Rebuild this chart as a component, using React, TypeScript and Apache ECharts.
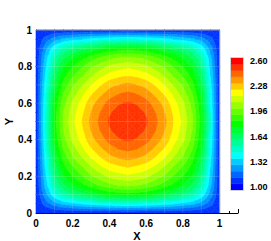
import React, { useEffect, useRef } from "react";
import * as echarts from "echarts";

// Mesh node coordinates (0.05 spacing)
const X_NODES = [0, 0.05, 0.1, 0.15, 0.2, 0.25, 0.3, 0.35, 0.4, 0.45, 0.5, 0.55, 0.6, 0.65, 0.7, 0.75, 0.8, 0.85, 0.9, 0.95, 1.0];
const Y_NODES = [0, 0.05, 0.1, 0.15, 0.2, 0.25, 0.3, 0.35, 0.4, 0.45, 0.5, 0.55, 0.6, 0.65, 0.7, 0.75, 0.8, 0.85, 0.9, 0.95, 1.0];
// Faint mesh lines visible in the picture
const MESH_LINES = [0.1, 0.2, 0.3, 0.4, 0.5, 0.6, 0.7, 0.8, 0.9];

// Nodal values (rows = Y index, cols = X index)
const ROW_0 = [1.00,1.00,1.00,1.00,1.00,1.00,1.00,1.00,1.00,1.00,1.00,1.00,1.00,1.00,1.00,1.00,1.00,1.00,1.00,1.00,1.00];
const ROW_1 = [1.00,1.11,1.20,1.26,1.29,1.32,1.34,1.37,1.38,1.40,1.40,1.40,1.38,1.37,1.34,1.32,1.29,1.26,1.20,1.11,1.00];
const ROW_2 = [1.00,1.20,1.38,1.49,1.55,1.60,1.65,1.69,1.73,1.75,1.76,1.75,1.73,1.69,1.65,1.60,1.55,1.49,1.38,1.20,1.00];
const ROW_3 = [1.00,1.26,1.49,1.62,1.71,1.77,1.83,1.89,1.93,1.96,1.97,1.96,1.93,1.89,1.83,1.77,1.71,1.62,1.49,1.26,1.00];
const ROW_4 = [1.00,1.29,1.55,1.71,1.80,1.87,1.95,2.00,2.06,2.08,2.10,2.08,2.06,2.00,1.95,1.87,1.80,1.71,1.55,1.29,1.00];
const ROW_5 = [1.00,1.32,1.60,1.77,1.87,1.95,2.03,2.10,2.15,2.18,2.20,2.18,2.15,2.10,2.03,1.95,1.87,1.77,1.60,1.32,1.00];
const ROW_6 = [1.00,1.34,1.65,1.83,1.95,2.03,2.12,2.19,2.25,2.28,2.30,2.28,2.25,2.19,2.12,2.03,1.95,1.83,1.65,1.34,1.00];
const ROW_7 = [1.00,1.37,1.69,1.89,2.00,2.10,2.19,2.26,2.32,2.36,2.38,2.36,2.32,2.26,2.19,2.10,2.00,1.89,1.69,1.37,1.00];
const ROW_8 = [1.00,1.38,1.73,1.93,2.06,2.15,2.25,2.32,2.39,2.43,2.45,2.43,2.39,2.32,2.25,2.15,2.06,1.93,1.73,1.38,1.00];
const ROW_9 = [1.00,1.40,1.75,1.96,2.08,2.18,2.28,2.36,2.43,2.47,2.49,2.47,2.43,2.36,2.28,2.18,2.08,1.96,1.75,1.40,1.00];
const ROW_10 = [1.00,1.40,1.76,1.97,2.10,2.20,2.30,2.38,2.45,2.49,2.51,2.49,2.45,2.38,2.30,2.20,2.10,1.97,1.76,1.40,1.00];
const ROW_11 = [1.00,1.40,1.75,1.96,2.08,2.18,2.28,2.36,2.43,2.47,2.49,2.47,2.43,2.36,2.28,2.18,2.08,1.96,1.75,1.40,1.00];
const ROW_12 = [1.00,1.38,1.73,1.93,2.06,2.15,2.25,2.32,2.39,2.43,2.45,2.43,2.39,2.32,2.25,2.15,2.06,1.93,1.73,1.38,1.00];
const ROW_13 = [1.00,1.37,1.69,1.89,2.00,2.10,2.19,2.26,2.32,2.36,2.38,2.36,2.32,2.26,2.19,2.10,2.00,1.89,1.69,1.37,1.00];
const ROW_14 = [1.00,1.34,1.65,1.83,1.95,2.03,2.12,2.19,2.25,2.28,2.30,2.28,2.25,2.19,2.12,2.03,1.95,1.83,1.65,1.34,1.00];
const ROW_15 = [1.00,1.32,1.60,1.77,1.87,1.95,2.03,2.10,2.15,2.18,2.20,2.18,2.15,2.10,2.03,1.95,1.87,1.77,1.60,1.32,1.00];
const ROW_16 = [1.00,1.29,1.55,1.71,1.80,1.87,1.95,2.00,2.06,2.08,2.10,2.08,2.06,2.00,1.95,1.87,1.80,1.71,1.55,1.29,1.00];
const ROW_17 = [1.00,1.26,1.49,1.62,1.71,1.77,1.83,1.89,1.93,1.96,1.97,1.96,1.93,1.89,1.83,1.77,1.71,1.62,1.49,1.26,1.00];
const ROW_18 = [1.00,1.20,1.38,1.49,1.55,1.60,1.65,1.69,1.73,1.75,1.76,1.75,1.73,1.69,1.65,1.60,1.55,1.49,1.38,1.20,1.00];
const ROW_19 = [1.00,1.11,1.20,1.26,1.29,1.32,1.34,1.37,1.38,1.40,1.40,1.40,1.38,1.37,1.34,1.32,1.29,1.26,1.20,1.11,1.00];
const ROW_20 = [1.00,1.00,1.00,1.00,1.00,1.00,1.00,1.00,1.00,1.00,1.00,1.00,1.00,1.00,1.00,1.00,1.00,1.00,1.00,1.00,1.00];
const FIELD = [
  ROW_0, ROW_1, ROW_2, ROW_3, ROW_4, ROW_5, ROW_6, ROW_7, ROW_8, ROW_9, ROW_10,
  ROW_11, ROW_12, ROW_13, ROW_14, ROW_15, ROW_16, ROW_17, ROW_18, ROW_19, ROW_20,
];

// Contour levels
const LEVELS = [
  1.0, 1.08, 1.16, 1.24, 1.32, 1.4, 1.48, 1.56, 1.64, 1.72, 1.8,
  1.88, 1.96, 2.04, 2.12, 2.2, 2.28, 2.36, 2.44, 2.52, 2.6,
];
const COLORBAR_LABELS = [1.0, 1.32, 1.64, 1.96, 2.28, 2.6];
const X_TITLE = "X";
const Y_TITLE = "Y";

const FONT = "'Liberation Sans', Arial, Helvetica, sans-serif";

function levelColor(k: number): string {
  const h = 240 * (1 - k / 20);
  const sector = Math.floor(h / 60);
  const f = 1 - Math.abs(((h / 60) % 2) - 1);
  let r = 0, g = 0, b = 0;
  if (sector <= 0) { r = 1; g = f; b = 0; }
  else if (sector === 1) { r = f; g = 1; b = 0; }
  else if (sector === 2) { r = 0; g = 1; b = f; }
  else if (sector === 3) { r = 0; g = f; b = 1; }
  else { r = f; g = 0; b = 1; }
  return `rgb(${Math.round(r * 255)},${Math.round(g * 255)},${Math.round(b * 255)})`;
}

type P = [number, number, number];

function clip(poly: P[], level: number, keepAbove: boolean): P[] {
  const out: P[] = [];
  const inside = (p: P) => (keepAbove ? p[2] >= level : p[2] <= level);
  for (let i = 0; i < poly.length; i++) {
    const a = poly[i];
    const b = poly[(i + 1) % poly.length];
    const ia = inside(a);
    const ib = inside(b);
    if (ia) out.push(a);
    if (ia !== ib) {
      const t = (level - a[2]) / (b[2] - a[2]);
      out.push([a[0] + t * (b[0] - a[0]), a[1] + t * (b[1] - a[1]), level]);
    }
  }
  return out;
}

export default function App() {
  const ref = useRef<HTMLDivElement>(null);
  useEffect(() => {
    if (!ref.current) return;
    const chart = echarts.init(ref.current, undefined, { renderer: "svg" });

    const cells: number[][] = [];
    for (let j = 0; j < Y_NODES.length - 1; j++) {
      for (let i = 0; i < X_NODES.length - 1; i++) {
        cells.push([X_NODES[i], Y_NODES[j], i, j]);
      }
    }

    const contourItem = (params: any, api: any) => {
      const i = api.value(2);
      const j = api.value(3);
      const c0: P = [X_NODES[i], Y_NODES[j], FIELD[j][i]];
      const c1: P = [X_NODES[i + 1], Y_NODES[j], FIELD[j][i + 1]];
      const c2: P = [X_NODES[i + 1], Y_NODES[j + 1], FIELD[j + 1][i + 1]];
      const c3: P = [X_NODES[i], Y_NODES[j + 1], FIELD[j + 1][i]];
      const cen: P = [
        (c0[0] + c1[0] + c2[0] + c3[0]) / 4,
        (c0[1] + c1[1] + c2[1] + c3[1]) / 4,
        (c0[2] + c1[2] + c2[2] + c3[2]) / 4,
      ];
      const tris: P[][] = [
        [c0, c1, cen],
        [c1, c2, cen],
        [c2, c3, cen],
        [c3, c0, cen],
      ];
      const children: any[] = [];
      for (const tri of tris) {
        const vmin = Math.min(tri[0][2], tri[1][2], tri[2][2]);
        const vmax = Math.max(tri[0][2], tri[1][2], tri[2][2]);
        for (let k = 1; k <= 20; k++) {
          const lo = k === 1 ? -Infinity : LEVELS[k - 1];
          const hi = k === 20 ? Infinity : LEVELS[k];
          if (vmax < lo || vmin > hi) continue;
          let poly: P[] = tri;
          if (isFinite(lo)) poly = clip(poly, lo, true);
          if (poly.length >= 3 && isFinite(hi)) poly = clip(poly, hi, false);
          if (poly.length < 3) continue;
          const pts = poly.map((p) => api.coord([p[0], p[1]]));
          const col = levelColor(k);
          children.push({
            type: "polygon",
            shape: { points: pts },
            style: { fill: col, stroke: col, lineWidth: 0.6 },
          });
        }
      }
      return { type: "group", children };
    };

    const meshItem = (params: any, api: any) => {
      const children: any[] = [];
      const x0 = X_NODES[0], x1 = X_NODES[X_NODES.length - 1];
      const y0 = Y_NODES[0], y1 = Y_NODES[Y_NODES.length - 1];
      const st = { stroke: "rgba(255,255,255,0.2)", lineWidth: 0.8 };
      for (const m of MESH_LINES) {
        const a = api.coord([m, y0]);
        const b = api.coord([m, y1]);
        children.push({ type: "line", shape: { x1: a[0], y1: a[1], x2: b[0], y2: b[1] }, style: st });
        const c = api.coord([x0, m]);
        const d = api.coord([x1, m]);
        children.push({ type: "line", shape: { x1: c[0], y1: c[1], x2: d[0], y2: d[1] }, style: st });
      }
      return { type: "group", children };
    };

    const labelStyle = { color: "#000", fontWeight: "bold" as const, fontSize: 10, fontFamily: FONT };

    chart.setOption({
      animation: false,
      backgroundColor: "#fff",
      grid: [
        { left: 36, top: 30, width: 202, height: 183, containLabel: false, outerBoundsMode: "none" },
        { left: 231, top: 58, width: 12, height: 132, containLabel: false, outerBoundsMode: "none" },
      ],
      xAxis: [
        {
          type: "value",
          gridIndex: 0,
          min: 0,
          max: 1.1,
          interval: 0.2,
          name: X_TITLE,
          nameLocation: "middle",
          nameGap: 17,
          nameMoveOverlap: false,
          nameTextStyle: { color: "#000", fontWeight: "bold", fontSize: 11, fontFamily: FONT },
          axisLine: { show: true, onZero: false, lineStyle: { color: "#000", width: 1 } },
          axisTick: { show: true, inside: true, length: 4, lineStyle: { color: "#000" } },
          minorTick: { show: true, splitNumber: 4, length: 2, lineStyle: { color: "#000" } },
          axisLabel: { ...labelStyle, margin: 5, showMaxLabel: false },
          splitLine: { show: false },
        },
        { type: "value", gridIndex: 1, min: 0, max: 1, show: false },
      ],
      yAxis: [
        {
          type: "value",
          gridIndex: 0,
          min: 0,
          max: 1,
          interval: 0.2,
          name: Y_TITLE,
          nameLocation: "middle",
          nameRotate: 90,
          nameGap: 22,
          nameMoveOverlap: false,
          nameTextStyle: { color: "#000", fontWeight: "bold", fontSize: 11, fontFamily: FONT },
          axisLine: { show: true, onZero: false, lineStyle: { color: "#000", width: 1 } },
          axisTick: { show: true, inside: true, length: 4, lineStyle: { color: "#000" } },
          minorTick: { show: true, splitNumber: 4, length: 2, lineStyle: { color: "#000" } },
          axisLabel: { ...labelStyle, margin: 4 },
          splitLine: { show: false },
        },
        {
          type: "value",
          gridIndex: 1,
          min: 0.96,
          max: 2.64,
          position: "right",
          axisLine: { show: false },
          axisTick: { show: false },
          splitLine: { show: false },
          axisLabel: {
            ...labelStyle,
            fontSize: 9,
            margin: 7,
            customValues: COLORBAR_LABELS,
            formatter: (v: number) => v.toFixed(2),
          },
        },
      ],
      series: [
        {
          type: "custom",
          xAxisIndex: 0,
          yAxisIndex: 0,
          renderItem: contourItem,
          data: cells,
          encode: { x: 0, y: 1 },
          silent: true,
          z: 1,
        },
        {
          type: "custom",
          xAxisIndex: 0,
          yAxisIndex: 0,
          renderItem: meshItem,
          data: [[0.5, 0.5]],
          encode: { x: 0, y: 1 },
          silent: true,
          z: 2,
        },
        {
          type: "line",
          xAxisIndex: 0,
          yAxisIndex: 0,
          data: [[0, 1], [1, 1], [1, 0]],
          symbol: "none",
          lineStyle: { color: "#9a9a9a", width: 1 },
          silent: true,
          z: 3,
        },
        {
          type: "custom",
          xAxisIndex: 1,
          yAxisIndex: 1,
          data: LEVELS.map((l, k) => [0.5, l, k]),
          encode: { x: 0, y: 1 },
          silent: true,
          renderItem: (params: any, api: any) => {
            const l = api.value(1);
            const k = api.value(2);
            const a = api.coord([0, l + 0.04]);
            const b = api.coord([1, l - 0.04]);
            const col = levelColor(k);
            return {
              type: "rect",
              shape: { x: a[0], y: a[1], width: b[0] - a[0], height: b[1] - a[1] },
              style: { fill: col, stroke: col, lineWidth: 0.5 },
            };
          },
        },
        {
          type: "custom",
          xAxisIndex: 1,
          yAxisIndex: 1,
          data: [[0.5, 1.8]],
          encode: { x: 0, y: 1 },
          silent: true,
          z: 4,
          renderItem: (params: any, api: any) => {
            const a = api.coord([0, LEVELS[LEVELS.length - 1] + 0.04]);
            const b = api.coord([1, LEVELS[0] - 0.04]);
            return {
              type: "rect",
              shape: { x: a[0] - 0.5, y: a[1] - 0.5, width: b[0] - a[0] + 1, height: b[1] - a[1] + 1 },
              style: { fill: "none", stroke: "#d0d0d0", lineWidth: 1 },
            };
          },
        },
      ],
    });
    return () => chart.dispose();
  }, []);
  return (
    <div
      ref={ref}
      style={{ position: "fixed", left: 0, top: 0, width: 271, height: 241 }}
    />
  );
}
